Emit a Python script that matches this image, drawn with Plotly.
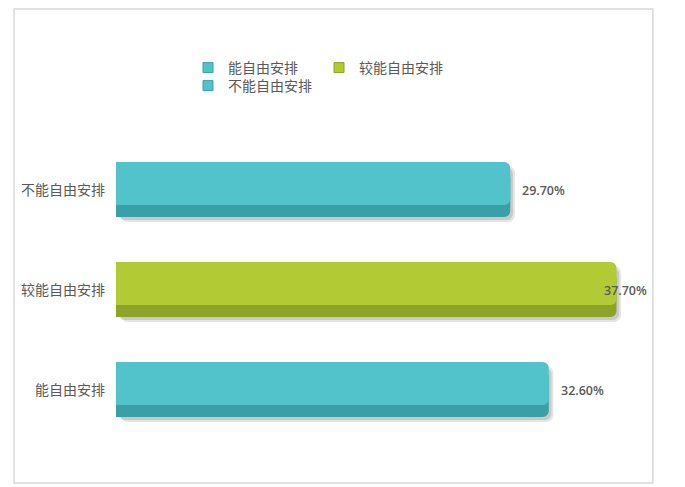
import plotly.graph_objects as go

# data
categories = ["能自由安排", "较能自由安排", "不能自由安排"]
values = [32.6, 37.7, 29.7]
face_colors = ["#52C3CA", "#B2CB34", "#52C3CA"]
side_colors = ["#38A0A6", "#8DA229", "#38A0A6"]

fig = go.Figure()

for cat, v, fc, sc in zip(categories, values, face_colors, side_colors):
    # soft shadow
    fig.add_trace(go.Bar(y=[cat], x=[v], base=[0.35], orientation="h",
                         offset=-0.32, width=0.56,
                         marker=dict(color="rgba(0,0,0,0.10)", cornerradius=7, line_width=0),
                         showlegend=False, hoverinfo="skip"))
    fig.add_trace(go.Bar(y=[cat], x=[v], base=[0.2], orientation="h",
                         offset=-0.30, width=0.52,
                         marker=dict(color="rgba(0,0,0,0.12)", cornerradius=6, line_width=0),
                         showlegend=False, hoverinfo="skip"))
    # darker side
    fig.add_trace(go.Bar(y=[cat], x=[v], orientation="h",
                         offset=-0.27, width=0.45,
                         marker=dict(color=sc, cornerradius=6, line_width=0),
                         showlegend=False, hoverinfo="skip"))
    # face
    fig.add_trace(go.Bar(y=[cat], x=[v], orientation="h",
                         offset=-0.15, width=0.43,
                         marker=dict(color=fc, cornerradius=6, line_width=0),
                         showlegend=False, hoverinfo="skip"))

# legend entries (square keys)
for cat, fc, sc in zip(categories, face_colors, side_colors):
    fig.add_trace(go.Scatter(x=[None], y=[None], mode="markers", name=cat,
                             marker=dict(symbol="square", size=10, color=fc,
                                         line=dict(color=sc, width=1)),
                             legend="legend2" if cat == "不能自由安排" else "legend"))

for cat, v in zip(categories, values):
    fig.add_annotation(x=v, y=cat, text=f"{v:.2f}%", showarrow=False,
                       xanchor="left", xshift=-14 if v == max(values) else 10,
                       font=dict(family="Open Sans", size=12.5, color="#595959", weight=600))

# outer frame
fig.add_shape(type="rect", xref="paper", yref="paper",
              x0=-0.192, x1=1.011, y0=-0.143, y1=1.437,
              line=dict(color="#D9D9D9", width=1.5))

legend_style = dict(orientation="h", xref="container", yref="container",
                    xanchor="left", yanchor="middle", entrywidth=86,
                    font=dict(family="Noto Sans CJK SC", size=14, color="#595959"),
                    bgcolor="rgba(0,0,0,0)")

fig.update_layout(
    width=685, height=487,
    margin=dict(l=108, r=46, t=132, b=55),
    barmode="overlay",
    paper_bgcolor="white", plot_bgcolor="white",
    font=dict(family="Noto Sans CJK SC", size=14, color="#595959"),
    legend=dict(x=180 / 685, y=1 - 60 / 487, **legend_style),
    legend2=dict(x=180 / 685, y=1 - 78 / 487, **legend_style),
    xaxis=dict(range=[0, 40], visible=False),
    yaxis=dict(categoryorder="array", categoryarray=categories,
               range=[-0.5, 2.5], showgrid=False, zeroline=False,
               showline=False, ticks="", ticklabelstandoff=10,
               tickfont=dict(family="Noto Sans CJK SC", size=14, color="#595959")),
)

fig.write_html("out.html")
